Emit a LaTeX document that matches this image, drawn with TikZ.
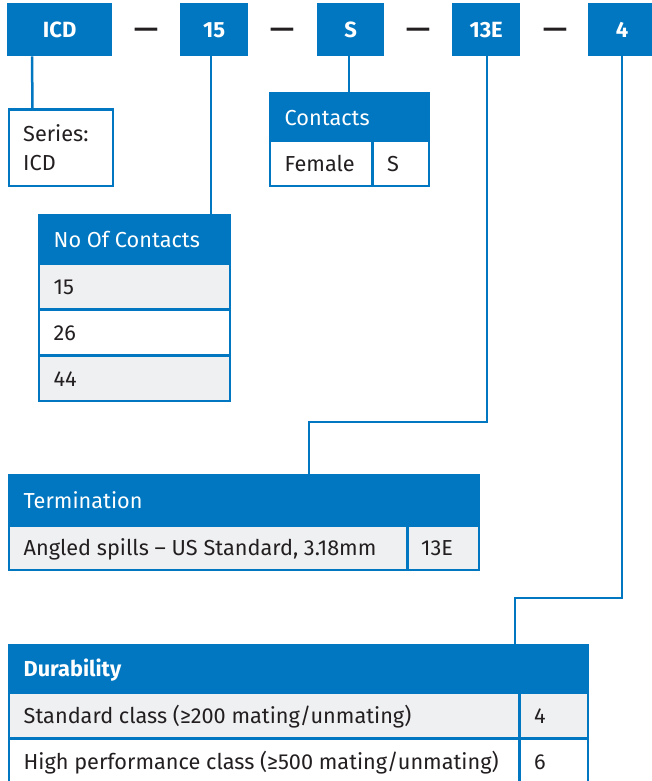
\documentclass[tikz,border=0pt]{standalone}
\usepackage{fontspec}
\usepackage{graphicx}
\setmainfont{Fira Sans}
\definecolor{brand}{HTML}{0077C0}
\definecolor{rowgray}{HTML}{EFF0F2}
\definecolor{ink}{HTML}{231F20}
\tikzset{
 topbox/.style={fill=brand, text=white, font=\fontsize{22}{26}\selectfont\bfseries, inner sep=0pt, anchor=north west, text height=15.5pt, text depth=0pt},
 box/.style={draw=brand, line width=2.5pt, inner sep=0pt, anchor=north west},
 head/.style={box, fill=brand},
 graycell/.style={box, fill=rowgray},
 whitecell/.style={box, fill=white},
 txt/.style={font=\fontsize{21.7}{26}\selectfont, text=ink, inner sep=0pt, text height=16pt, text depth=0pt, anchor=west},
 htxt/.style={txt, text=white},
 conn/.style={draw=brand, line width=2.5pt},
 dashtxt/.style={font=\fontsize{25}{28}\selectfont\bfseries, text=ink, inner sep=0pt, anchor=base}
}
\newcommand{\widedash}{\scalebox{1.2}[1]{—}}
\begin{document}
\begin{tikzpicture}[x=1pt,y=-1pt]
\useasboundingbox (0,0) rectangle (652,781);
% top code boxes
\node[topbox, minimum width=105pt, minimum height=53pt] (icd) at (7,3) {ICD};
\node[topbox, minimum width=68pt, minimum height=53pt] (n15) at (180,3) {15};
\node[topbox, minimum width=67pt, minimum height=53pt] (ns) at (317,3) {S};
\node[topbox, minimum width=68pt, minimum height=53pt] (n13e) at (452,3) {13E};
\node[topbox, minimum width=68pt, minimum height=53pt] (n4) at (588,3) {4};
\node[dashtxt] (d1) at (146,37.5) {\widedash};
\node[dashtxt] (d2) at (282,37.5) {\widedash};
\node[dashtxt] (d3) at (418,37.5) {\widedash};
\node[dashtxt] (d4) at (555,37.5) {\widedash};

% Series
\node[whitecell, minimum width=104pt, minimum height=76pt] (series) at (7.5,108.5) {};
\node[txt] (serA) at (23,134) {Series:};
\node[txt] (serB) at (23,162) {ICD};

% Contacts
\node[head, minimum width=159pt, minimum height=47pt] (conh) at (268.5,92.5) {};
\node[htxt] (conht) at ([xshift=16pt]conh.west) {Contacts};
\node[whitecell, minimum width=102.5pt, minimum height=45.5pt] (conf) at (268.5,139) {};
\node[txt] (conft) at ([xshift=16pt]conf.west) {Female};
\node[whitecell, minimum width=56.5pt, minimum height=45.5pt] (cons) at (371,139) {};
\node[txt] (const) at ([xshift=16pt]cons.west) {S};

% No Of Contacts
\node[head, minimum width=191pt, minimum height=49pt] (noh) at (37.5,213.5) {};
\node[htxt] (noht) at ([xshift=16pt]noh.west) {No Of Contacts};
\node[graycell, minimum width=191pt, minimum height=46pt] (no1) at (37.5,262) {};
\node[txt] (no1t) at ([xshift=16pt]no1.west) {15};
\node[whitecell, minimum width=191pt, minimum height=46pt] (no2) at (37.5,308) {};
\node[txt] (no2t) at ([xshift=16pt]no2.west) {26};
\node[graycell, minimum width=191pt, minimum height=45.5pt] (no3) at (37.5,354) {};
\node[txt] (no3t) at ([xshift=16pt]no3.west) {44};

% Termination
\node[head, minimum width=470pt, minimum height=51pt] (termh) at (7.5,473.5) {};
\node[htxt] (termht) at ([xshift=16pt]termh.west) {Termination};
\node[graycell, minimum width=398.5pt, minimum height=44.5pt] (term1) at (7.5,524) {};
\node[txt] (term1t) at ([xshift=16pt]term1.west) {Angled spills – US Standard, 3.18mm};
\node[graycell, minimum width=71.5pt, minimum height=44.5pt] (term2) at (406,524) {};
\node[txt] (term2t) at ([xshift=15pt]term2.west) {13E};

% Durability
\node[head, minimum width=579pt, minimum height=48pt] (durh) at (7.5,643.5) {};
\node[htxt, font=\fontsize{21.7}{26}\selectfont\bfseries] (durht) at ([xshift=16pt]durh.west) {Durability};
\node[graycell, minimum width=510.5pt, minimum height=46pt] (dur1) at (7.5,691) {};
\node[txt] (dur1t) at ([xshift=16pt]dur1.west) {Standard class (≥200 mating/unmating)};
\node[graycell, minimum width=68.5pt, minimum height=46pt] (dur1v) at (518,691) {};
\node[txt] (dur1vt) at ([xshift=16pt]dur1v.west) {4};
\node[whitecell, minimum width=510.5pt, minimum height=46pt] (dur2) at (7.5,737) {};
\node[txt] (dur2t) at ([xshift=16pt]dur2.west) {High performance class (≥500 mating/unmating)};
\node[whitecell, minimum width=68.5pt, minimum height=46pt] (dur2v) at (518,737) {};
\node[txt] (dur2vt) at ([xshift=16pt]dur2v.west) {6};

% connectors
\coordinate (k13) at (309,422);
\coordinate (k4) at (515,598);
\draw[conn] ([xshift=25pt]icd.south west) -- ([xshift=25pt]series.north west);
\draw[conn] ([xshift=-3pt]n15.south) -- ([xshift=-3pt]n15.south |- noh.north);
\draw[conn] ([xshift=-1.5pt]ns.south) -- ([xshift=-1.5pt]ns.south |- conh.north);
\draw[conn] ([xshift=1pt]n13e.south) |- (k13) -- (k13 |- termh.north);
\draw[conn] (n4.south) |- (k4) -- (k4 |- durh.north);
\end{tikzpicture}
\end{document}
